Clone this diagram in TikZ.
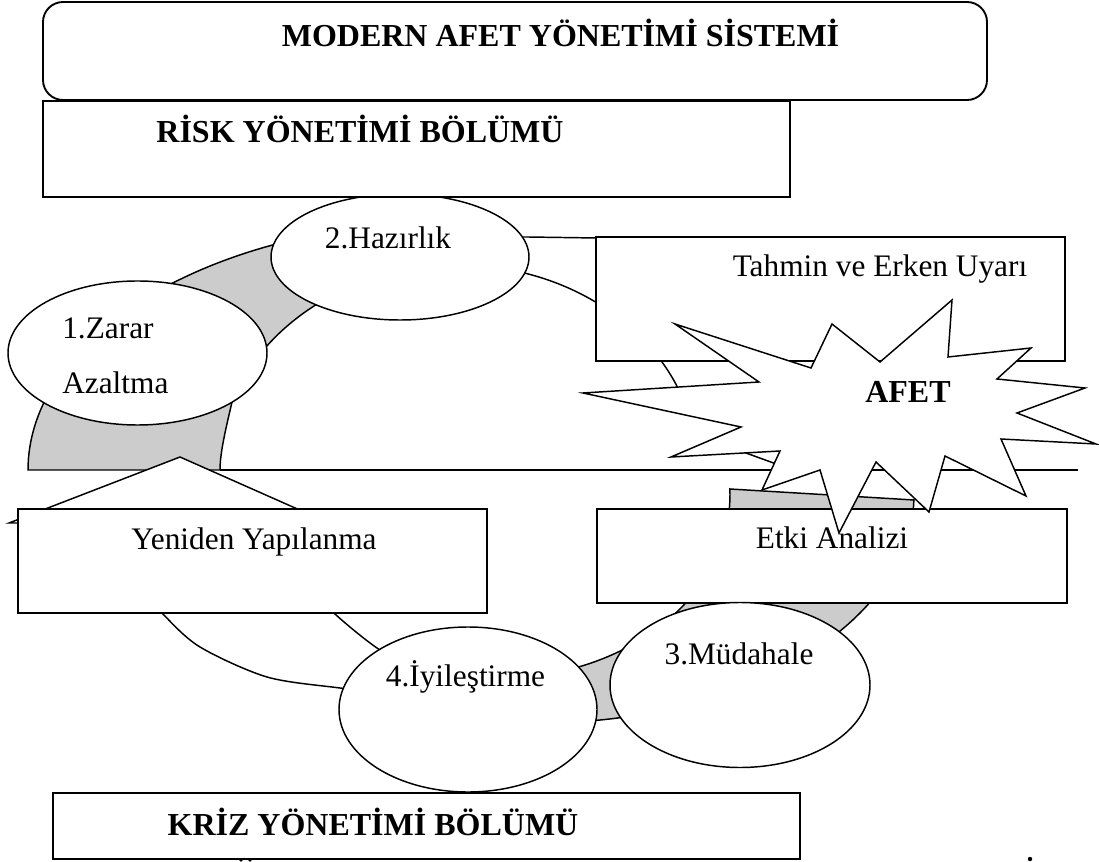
\documentclass[tikz,border=0pt]{standalone}
\usepackage{fontspec}
\setmainfont{Liberation Serif}
\usetikzlibrary{shapes.geometric}
\definecolor{ringgray}{RGB}{204,204,204}
\begin{document}
\begin{tikzpicture}[x=0.75pt,y=-0.75pt,line join=miter]
\tikzset{
  outl/.style={draw=black,line width=1.1pt},
  boxw/.style={draw=black,line width=1.1pt,fill=white,rectangle,inner sep=0pt},
  ellw/.style={draw=black,line width=1.1pt,fill=white,ellipse,inner sep=0pt},
  txt/.style={font=\fontsize{23.5}{28}\selectfont,inner sep=0pt,anchor=base},
  btxt/.style={font=\fontsize{24}{28}\selectfont\bfseries,inner sep=0pt,anchor=base}
}
\useasboundingbox (0,0) rectangle (1099,862);
\fill[white] (0,0) rectangle (1099,862);

% ---- upper ring: grey part
\path[outl,fill=ringgray]
  plot[domain=180:262,samples=60,variable=\t] ({450+422*cos(\t)},{470+248*sin(\t)})
  -- plot[domain=265:200,samples=60,variable=\t] ({458+240*cos(\t)},{470+205*sin(\t)})
  .. controls (228,420) and (220,450) .. (220,470) -- cycle;
% ---- upper ring: white part
\draw[outl] (470,237) -- (528,237) -- (597,238) -- (640,239);
\draw[outl] plot[domain=268:340,samples=60,variable=\t] ({458+240*cos(\t)},{470+205*sin(\t)});

% ---- lower ring: grey part
\path[outl,fill=ringgray] (730,489) -- (914,500)
  -- plot[domain=1.3:105,samples=60,variable=\t] ({540+374*cos(\t)},{495+228*sin(\t)})
  -- plot[domain=100:-1.9,samples=60,variable=\t] ({500+230*cos(\t)},{495+183*sin(\t)})
  -- cycle;
% ---- lower ring: white part
\draw[outl] plot[smooth] coordinates {(135,580) (163,614) (200,647) (267,677) (340,688) (410,696)};
\draw[outl] plot[smooth] coordinates {(310,585) (335,614) (380,650) (420,668)};

% ---- base line
\coordinate (bl) at (220,470);
\coordinate (br) at (1078,470);
\draw[line width=1.5pt] (bl) -- (br);
\coordinate (sa) at (735,449);
\coordinate (sb) at (790,469);
\draw[outl] (sa) -- (sb);

% ---- ellipses (upper)
\node[ellw,minimum width=194.25pt,minimum height=108pt] (zarar) at (137.5,353) {};
\node[ellw,minimum width=193.5pt,minimum height=94.5pt] (hazir) at (400,257) {};

% ---- triangle behind Yeniden Yapilanma
\draw[outl,fill=white] (9,523) -- (180,457) -- (329,523) -- cycle;

% ---- boxes
\node[draw=black,line width=1.4pt,fill=white,rectangle,rounded corners=15pt,inner sep=0pt,
      minimum width=708pt,minimum height=73.5pt] (title) at (515,51) {};
\node[boxw,minimum width=560.25pt,minimum height=72pt] (risk) at (416.5,149) {};
\node[boxw,minimum width=351.75pt,minimum height=93pt] (tahmin) at (830.5,299) {};
\node[boxw,minimum width=351.75pt,minimum height=78pt] (yeniden) at (252.5,561) {};
\node[boxw,minimum width=352.5pt,minimum height=70.5pt] (etki) at (832,556) {};
\node[boxw,minimum width=560.25pt,minimum height=49.5pt] (kriz) at (426.5,826) {};

% ---- ellipses (lower)
\node[ellw,minimum width=195pt,minimum height=123.75pt] (mudahale) at (740,685) {};
\node[ellw,minimum width=193.5pt,minimum height=123.75pt] (iyiles) at (468,709.5) {};

% ---- star
\draw[outl,fill=white] (952,300) -- (948,357) -- (1031,348) -- (997,379) -- (1085,388)
  -- (1017,413) -- (1096,444) -- (1001,439) -- (1026,496) -- (945,456) -- (929,512)
  -- (876,462) -- (839,533) -- (820,470) -- (762,490) -- (780,451) -- (671,457)
  -- (741,427) -- (583,393) -- (759,382) -- (675,324) -- (811,368) -- (832,324)
  -- (880,362) -- cycle;

% ---- texts
\node[btxt] (ttitle) at (560.5,47) {MODERN AFET YÖNETİMİ SİSTEMİ};
\node[btxt] (trisk) at (360,143) {RİSK YÖNETİMİ BÖLÜMÜ};
\node[txt] (thazir) at (388,249) {2.Hazırlık};
\node[txt,anchor=base west] (tzarar1) at (62,339) {1.Zarar};
\node[txt,anchor=base west] (tzarar2) at (62,394) {Azaltma};
\node[txt] (ttahmin) at (880,277) {Tahmin ve Erken Uyarı};
\node[btxt] (tafet) at (908,403) {AFET};
\node[txt] (tyeniden) at (254,549) {Yeniden Yapılanma};
\node[txt] (tetki) at (832,548) {Etki Analizi};
\node[txt] (tmud) at (739,664) {3.Müdahale};
\node[txt] (tiyi) at (465.5,686) {4.İyileştirme};
\node[btxt] (tkriz) at (373,835) {KRİZ YÖNETİMİ BÖLÜMÜ};

% ---- cut-off marks at the bottom edge
\fill (1030,859) circle (2.2);
\fill (241,860) circle (1.8);
\fill (250,860) circle (1.8);
\end{tikzpicture}
\end{document}
